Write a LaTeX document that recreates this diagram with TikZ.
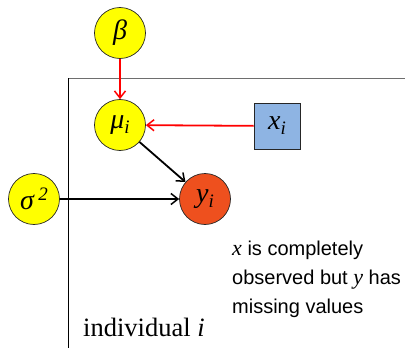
\documentclass[tikz,border=0pt]{standalone}
\usepackage{fontspec}
\setmainfont{Liberation Serif}
\setsansfont{Liberation Sans}
\usetikzlibrary{arrows.meta}
\definecolor{nodeyellow}{RGB}{255,255,0}
\definecolor{nodeorange}{RGB}{238,80,30}
\definecolor{nodeblue}{RGB}{142,180,227}
\definecolor{plategray}{RGB}{110,110,110}
\newcommand{\subi}{\raisebox{-5pt}{\fontsize{19}{19}\selectfont\textit{i}}}
\newcommand{\suptwo}{\raisebox{9pt}{\fontsize{19}{19}\selectfont 2}}
\tikzset{
  varnode/.style={circle, draw=black!85, line width=0.7pt, minimum size=51pt, inner sep=0pt, font=\fontsize{28}{28}\selectfont\itshape},
  obsnode/.style={rectangle, draw=black!85, line width=0.7pt, minimum size=46pt, inner sep=0pt, fill=nodeblue, font=\fontsize{28}{28}\selectfont\itshape},
  redarrow/.style={draw=red, line width=1.8pt, -{Straight Barb[length=7pt,width=11pt,line width=1.5pt]}},
  blackarrow/.style={draw=black, line width=1.8pt, -{Straight Barb[length=7pt,width=11pt,line width=1.5pt]}},
  note/.style={anchor=base west, inner sep=0pt, font=\sffamily\fontsize{20}{20}\selectfont},
}
\begin{document}
\begin{tikzpicture}[x=1pt,y=-1pt]
\useasboundingbox (0,0) rectangle (405,348);
% plate
\draw[plategray, line width=1pt] (68,78) -- (410,78);
\draw[black, line width=1pt] (68,78) -- (68,352);
\node[anchor=base west, inner sep=0pt, font=\fontsize{26.5}{26.5}\selectfont] (plabel) at (83,336) {individual \textit{i}};
% nodes
\node[varnode, fill=nodeyellow] (beta) at (120,33) {β};
\node[varnode, fill=nodeyellow] (mu) at (120,125) {μ\subi};
\node[obsnode] (x) at (277,126) {x\subi};
\node[varnode, fill=nodeyellow] (sigma) at (34,199) {σ\,\suptwo};
\node[varnode, fill=nodeorange] (y) at (205,199) {y\subi};
% connectors
\draw[redarrow] (beta) -- (mu);
\draw[redarrow] (x) -- (mu);
\draw[blackarrow] (mu) -- (y);
\draw[blackarrow] (sigma) -- (y);
% note
\node[note] (n1) at (232,255) {\textit{\rmfamily\fontsize{22}{22}\selectfont x} is completely};
\node[note] (n2) at (232,284) {observed but \textit{\rmfamily\fontsize{22}{22}\selectfont y} has};
\node[note] (n3) at (232,313) {missing values};
\end{tikzpicture}
\end{document}
